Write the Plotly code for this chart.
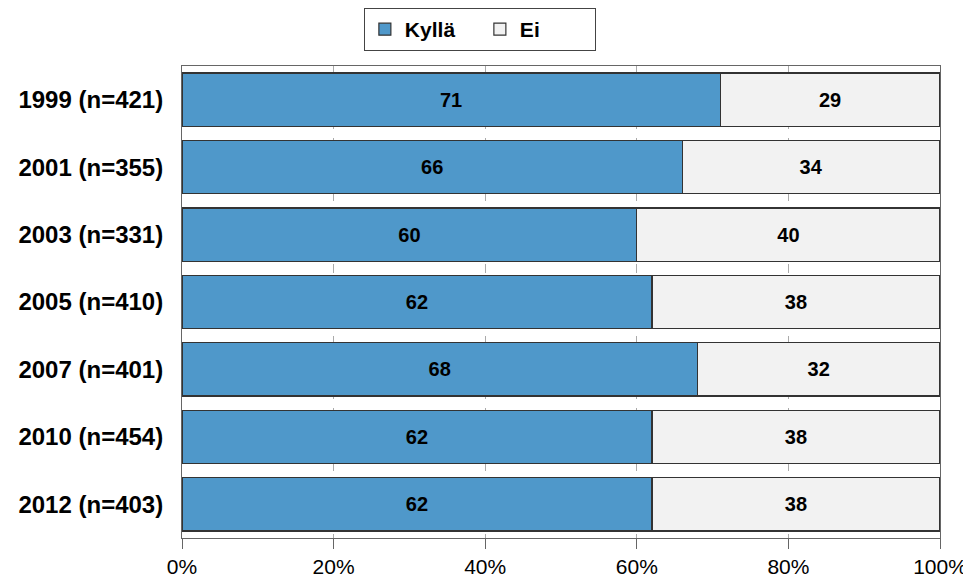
import plotly.graph_objects as go

years = ["1999 (n=421)", "2001 (n=355)", "2003 (n=331)", "2005 (n=410)",
         "2007 (n=401)", "2010 (n=454)", "2012 (n=403)"]
kylla = [71, 66, 60, 62, 68, 62, 62]
ei = [29, 34, 40, 38, 32, 38, 38]
x_ticks = [0, 20, 40, 60, 80, 100]
x_labels = ["0%", "20%", "40%", "60%", "80%", "100%"]

font = "Liberation Sans, Arial, sans-serif"

fig = go.Figure()
for name, vals, color in [("Kyllä", kylla, "#4F98CA"), ("Ei", ei, "#F2F2F2")]:
    fig.add_trace(go.Bar(
        y=years, x=vals, name=name, orientation="h",
        marker=dict(color=color, line=dict(color="#333333", width=1.2)),
        text=vals, textposition="inside", insidetextanchor="middle",
        textfont=dict(family=font, size=20, color="black", weight="bold"),
        width=0.79,
    ))

# page has an 8px body margin, so the figure is a bit smaller than the window
fig.update_layout(
    barmode="stack",
    width=963, height=571,
    margin=dict(l=174, r=31, t=58, b=41, autoexpand=False),
    plot_bgcolor="white", paper_bgcolor="white",
    font=dict(family=font, color="black"),
    legend=dict(
        orientation="h", traceorder="normal",
        x=0.49, y=1.0, xanchor="center", yanchor="top",
        xref="container", yref="container",
        bordercolor="#444444", borderwidth=1,
        font=dict(family=font, size=21, weight="bold"),
        itemwidth=30, entrywidth=70, tracegroupgap=0,
    ),
)

fig.update_yaxes(
    autorange="reversed", categoryorder="array", categoryarray=years,
    tickfont=dict(family=font, size=24, weight="bold"),
    ticks="", automargin=False,
    showline=True, linecolor="#666666", mirror=True,
    showgrid=False, ticklabelstandoff=13,
)
fig.update_xaxes(
    range=[0, 100], tickvals=x_ticks, ticktext=x_labels,
    tickfont=dict(family=font, size=21),
    ticks="outside", ticklen=10, tickcolor="#666666", automargin=False,
    showline=True, linecolor="#666666", mirror=True,
    showgrid=True, gridcolor="#AAAAAA", griddash="dash", gridwidth=1,
    zeroline=False,
)

fig.write_html("out.html")
